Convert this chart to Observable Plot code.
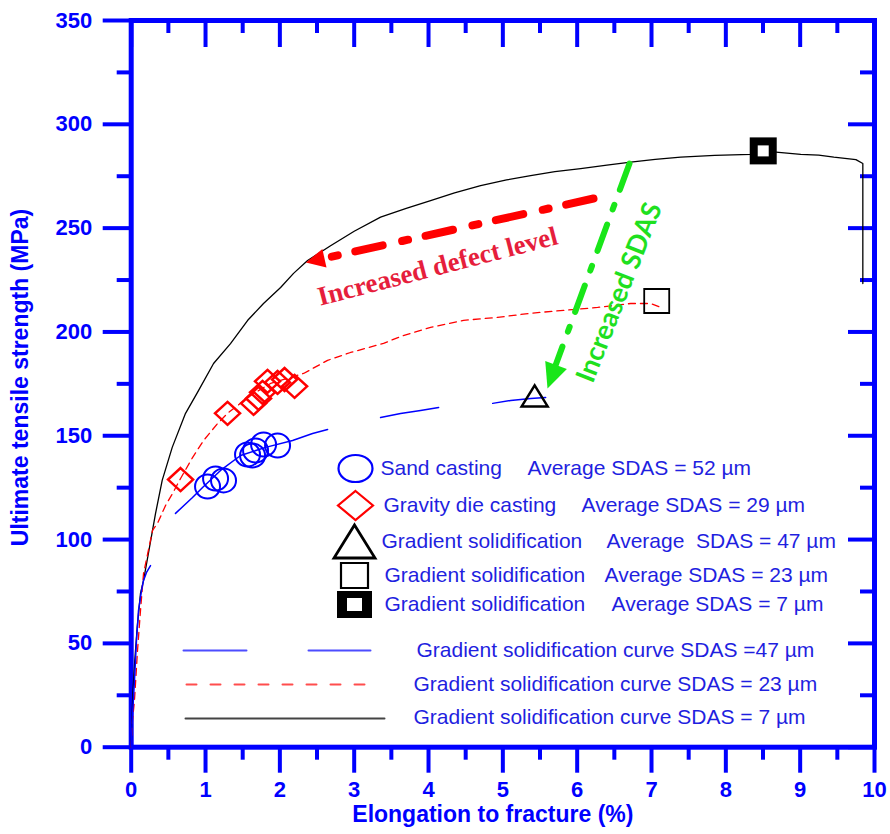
<!DOCTYPE html>
<html><head><meta charset="utf-8">
<script src="https://cdn.jsdelivr.net/npm/d3@7"></script>
<script src="https://cdn.jsdelivr.net/npm/@observablehq/plot@0.6"></script>
<style>body{margin:0;background:#fff}</style>
</head><body><div id="chart"></div>
<script>
// ---------- data ----------
const xMajor = [0,1,2,3,4,5,6,7,8,9,10];
const xMinor = [0.5,1.5,2.5,3.5,4.5,5.5,6.5,7.5,8.5,9.5];
const yMajor = [0,50,100,150,200,250,300,350];
const yMinor = [25,75,125,175,225,275,325];

// Gradient solidification curve SDAS = 7 µm
const curve7 = [[0,0],[0.01,12.9],[0.022,25.9],[0.048,41.8],[0.081,57.7],[0.125,74.1],[0.166,80.3],[0.246,96.2],[0.327,112.5],[0.417,128.5],[0.552,144.4],[0.731,160.8],[0.892,170.9],[1.108,184.8],[1.336,194.4],[1.565,205.5],[1.78,213.7],[2.01,221.4],[2.184,228.2],[2.373,234.4],[2.682,241.5],[3.0,248.5],[3.355,255.3],[3.7,259.5],[4.028,263.3],[4.35,267],[4.701,270.5],[5.05,273.2],[5.374,275.3],[5.7,277.2],[6.047,278.7],[6.4,280.3],[6.72,281.8],[7.05,283.1],[7.393,284.2],[7.85,285],[8.335,285.5],[8.6,286.8],[9.008,285.5],[9.25,285.2],[9.453,284.2],[9.75,283],[9.843,281.1],[9.843,223.3]];
// Gradient solidification curve SDAS = 23 µm
const curve23 = [[0,0],[0.017,12.9],[0.044,22.5],[0.085,46.6],[0.125,65.8],[0.166,83.7],[0.287,104.4],[0.354,107.8],[0.462,116.4],[0.556,122.2],[0.664,129.4],[0.825,139.5],[0.973,147.7],[1.162,155.9],[1.296,160.8],[1.606,169.4],[1.875,175.2],[2.319,180],[2.642,186.3],[2.951,190.1],[3.395,194.5],[3.624,197.8],[4.028,202.2],[4.472,205.6],[4.93,207],[5.374,209],[5.818,210.4],[6.276,211.8],[6.72,213.7],[6.989,213.7],[7.124,211.8]];
// Gradient solidification curve SDAS = 47 µm (broken segments)
const curve47 = [
  [0,0,0],[0.017,15.3,0],[0.044,32.1,0],[0.071,51.4,0],[0.098,65.8,0],[0.139,75.5,0],[0.166,80.3,0],[0.206,84.2,0],[0.26,87.5,0],
  [0.596,112.6,1],[0.825,120.3,1],[0.96,125.1,1],[1.202,133.3,1],[1.471,140.5,1],[1.808,144.4,1],[2.171,147.7,1],[2.44,151.1,1],[2.642,153,1],
  [3.355,158.8,2],[3.624,160.7,2],[3.893,162.2,2],[4.136,163.6,2],
  [4.863,165.6,3],[5.105,167,3],[5.374,168,3],[5.576,168.4,3]
];
// Sand casting (SDAS 52 µm)
const sandCasting = [[1.027,125.6],[1.135,129.4],[1.242,128.5],[1.565,141],[1.633,140.5],[1.673,142.9],[1.781,145.8],[1.969,145.3]];
// Gravity die casting (SDAS 29 µm)
const gravityDie = [[0.664,128.9],[1.296,160.8],[1.646,165.6],[1.713,168],[1.767,170.9],[1.834,176.2],[1.969,175.7],[2.063,177.1],[2.198,173.8]];
// Gradient solidification specimens
const grad47 = [[5.428,169.2]];
const grad23 = [[7.07,214.9]];
const grad7 = [[8.503,287.2]];

const legendNames = ["Sand casting","Gravity die casting","Gradient solidification","Gradient solidification","Gradient solidification"];
const legendSDAS = ["Average SDAS = 52 µm","Average SDAS = 29 µm","Average\u00a0 SDAS = 47 µm","Average SDAS = 23 µm","Average SDAS = 7 µm"];
const curveLabels = ["Gradient solidification curve SDAS =47 µm","Gradient solidification curve SDAS = 23 µm","Gradient solidification curve SDAS = 7 µm"];

// ---------- layout ----------
const W = 890, H = 834, ML = 130.7, MR = 16, MT = 20, MB = 87.3;
const PW = W - ML - MR, PH = H - MT - MB;
const px2x = px => (px - ML) / PW * 10;
const py2y = py => (H - MB - py) / PH * 350;
const BLUE = "#0000ff", LBLUE = "#1f1fe0";
const SANS = "Liberation Sans, Arial, sans-serif";

// custom symbols (fixed pixel sizes)
const K = 0.5523;
const ellipseSym = (rx, ry) => ({draw(c){c.moveTo(rx,0);c.bezierCurveTo(rx,ry*K,rx*K,ry,0,ry);c.bezierCurveTo(-rx*K,ry,-rx,ry*K,-rx,0);c.bezierCurveTo(-rx,-ry*K,-rx*K,-ry,0,-ry);c.bezierCurveTo(rx*K,-ry,rx,-ry*K,rx,0);c.closePath();}});
const diamondSym = (w, h) => ({draw(c){c.moveTo(0,-h/2);c.lineTo(w/2,0);c.lineTo(0,h/2);c.lineTo(-w/2,0);c.closePath();}});
const triSym = (w, h) => ({draw(c){c.moveTo(0,-h/2);c.lineTo(w/2,h/2);c.lineTo(-w/2,h/2);c.closePath();}});
const rectSym = (w, h) => ({draw(c){c.rect(-w/2,-h/2,w,h);}});
const headSym = (w, L) => ({draw(c){c.moveTo(0,0);c.lineTo(w/2,L);c.lineTo(-w/2,L);c.closePath();}});

// ---------- legend layout ----------
const rowY = [468,505,541,575,604];
const nameX = [380,383,381,384,384];
const avgX = [527,581,606,604,611];
const legendText = [];
legendNames.forEach((n,i) => {
  legendText.push({x: px2x(nameX[i]), y: py2y(rowY[i]), t: n});
  legendText.push({x: px2x(avgX[i]), y: py2y(rowY[i]), t: legendSDAS[i]});
});
const lineRowY = [650,684,717], lineTextX = [416,413,413];
curveLabels.forEach((n,i) => legendText.push({x: px2x(lineTextX[i]), y: py2y(lineRowY[i]), t: n}));
const lm = (px, py) => [[px2x(px), py2y(py)]];

const marks = [
  // axes frame and ticks
  Plot.frame({stroke: BLUE, strokeWidth: 5}),
  Plot.tickY(yMajor, {y: d => d, stroke: BLUE, strokeWidth: 4, insetLeft: -28, insetRight: PW}),
  Plot.tickY(yMinor, {y: d => d, stroke: BLUE, strokeWidth: 4, insetLeft: -14, insetRight: PW}),
  Plot.tickY(yMajor, {y: d => d, stroke: BLUE, strokeWidth: 4, insetLeft: PW - 26, insetRight: 0}),
  Plot.tickY(yMinor, {y: d => d, stroke: BLUE, strokeWidth: 4, insetLeft: PW - 14, insetRight: 0}),
  Plot.tickX(xMajor, {x: d => d, stroke: BLUE, strokeWidth: 4, insetTop: PH, insetBottom: -26}),
  Plot.tickX(xMinor, {x: d => d, stroke: BLUE, strokeWidth: 4, insetTop: PH, insetBottom: -13}),
  Plot.tickX(xMajor, {x: d => d, stroke: BLUE, strokeWidth: 4, insetTop: 0, insetBottom: PH - 27}),
  Plot.tickX(xMinor, {x: d => d, stroke: BLUE, strokeWidth: 4, insetTop: 0, insetBottom: PH - 13}),
  Plot.text(yMajor, {y: d => d, frameAnchor: "left", dx: -39, textAnchor: "end", fontSize: 22, fontWeight: "bold", fill: BLUE}),
  Plot.text(xMajor, {x: d => d, frameAnchor: "bottom", dy: 50, fontSize: 22, fontWeight: "bold", fill: BLUE}),
  Plot.text(["Elongation to fracture (%)"], {frameAnchor: "bottom", textAnchor: "middle", dx: -10, dy: 75, fontSize: 23, fontWeight: "bold", fill: BLUE}),
  Plot.text(["Ultimate tensile strength (MPa)"], {x: px2x(20), y: py2y(377), textAnchor: "middle", rotate: -90, fontSize: 23, fontWeight: "bold", fill: BLUE}),

  // curves
  Plot.line(curve7, {x: d => d[0], y: d => d[1], stroke: "#000", strokeWidth: 1.3}),
  Plot.line(curve23, {x: d => d[0], y: d => d[1], stroke: "#ff0000", strokeWidth: 1.3, strokeDasharray: "7,5"}),
  Plot.line(curve47, {x: d => d[0], y: d => d[1], z: d => d[2], stroke: "#0000ff", strokeWidth: 1.5}),

  // specimen markers
  Plot.dot(sandCasting, {x: d => d[0], y: d => d[1], symbol: ellipseSym(12.5, 12), fill: "none", stroke: "#0000ff", strokeWidth: 2}),
  Plot.dot(gravityDie, {x: d => d[0], y: d => d[1], symbol: diamondSym(25, 23), fill: "none", stroke: "#ff0000", strokeWidth: 2.5}),
  Plot.dot(grad47, {x: d => d[0], y: d => d[1], symbol: triSym(26, 21), fill: "none", stroke: "#000", strokeWidth: 2.5}),
  Plot.dot(grad23, {x: d => d[0], y: d => d[1], symbol: rectSym(25, 24), fill: "none", stroke: "#000", strokeWidth: 1.8}),
  Plot.dot(grad7, {x: d => d[0], y: d => d[1], symbol: rectSym(27, 27), fill: "#000", stroke: "none"}),
  Plot.dot(grad7, {x: d => d[0], y: d => d[1], symbol: rectSym(11, 11), fill: "#fff", stroke: "none"}),

  // annotations
  Plot.line([[px2x(593),py2y(198)],[px2x(323),py2y(258)]], {stroke: "#ff0000", strokeWidth: 8, strokeDasharray: "28,18,6,20"}),
  Plot.dot(lm(305.4,261.9), {symbol: headSym(19, 19), fill: "#ff0000", stroke: "none", rotate: 257.5}),
  Plot.text(["Increased defect level"], {x: px2x(437), y: py2y(266), rotate: -14.5, fontSize: 27, fontWeight: "bold", fontFamily: "Liberation Serif, Times New Roman, serif", fill: "#e61e3c"}),
  Plot.line([[px2x(629),py2y(163)],[px2x(555),py2y(365)]], {stroke: "#19e619", strokeWidth: 6, strokeDasharray: "28,16,5,16"}),
  Plot.dot(lm(547,388), {symbol: headSym(23, 25), fill: "#19e619", stroke: "none", rotate: 200}),
  Plot.text(["Increased SDAS"], {x: px2x(619), y: py2y(292), rotate: -68.5, fontSize: 27, fontWeight: "bold", fontFamily: "Lato, Open Sans, sans-serif", fill: "#1fe01f"}),

  // legend markers
  Plot.dot(lm(355,468), {symbol: ellipseSym(17, 13.5), fill: "none", stroke: "#0000ff", strokeWidth: 2.2}),
  Plot.dot(lm(355,505), {symbol: diamondSym(35, 29), fill: "none", stroke: "#ff0000", strokeWidth: 2.2}),
  Plot.dot(lm(354,541), {symbol: triSym(41, 33), fill: "none", stroke: "#000", strokeWidth: 2.8}),
  Plot.dot(lm(354,575), {symbol: rectSym(27, 25), fill: "none", stroke: "#000", strokeWidth: 2.2}),
  Plot.dot(lm(354,604), {symbol: rectSym(35, 27), fill: "#000", stroke: "none"}),
  Plot.dot(lm(354,604), {symbol: rectSym(15, 13), fill: "#fff", stroke: "none"}),
  // legend lines
  Plot.line([[px2x(183),py2y(650)],[px2x(246),py2y(650)]], {stroke: "#4d4dff", strokeWidth: 2}),
  Plot.line([[px2x(308),py2y(650)],[px2x(370),py2y(650)]], {stroke: "#4d4dff", strokeWidth: 2}),
  Plot.line([[px2x(186),py2y(684)],[px2x(376),py2y(684)]], {stroke: "#ff4d4d", strokeWidth: 2, strokeDasharray: "10,14"}),
  Plot.line([[px2x(185),py2y(718)],[px2x(384),py2y(718)]], {stroke: "#444", strokeWidth: 2}),
  Plot.text(legendText, {x: "x", y: "y", text: "t", textAnchor: "start", fontSize: 21, fill: LBLUE})
];

const chart = Plot.plot({
  width: W, height: H,
  marginLeft: ML, marginRight: MR, marginTop: MT, marginBottom: MB,
  x: {domain: [0, 10], axis: null},
  y: {domain: [0, 350], axis: null},
  style: {fontFamily: SANS, background: "#fff", overflow: "visible"},
  marks
});
document.getElementById("chart").appendChild(chart);
</script>
</body></html>
